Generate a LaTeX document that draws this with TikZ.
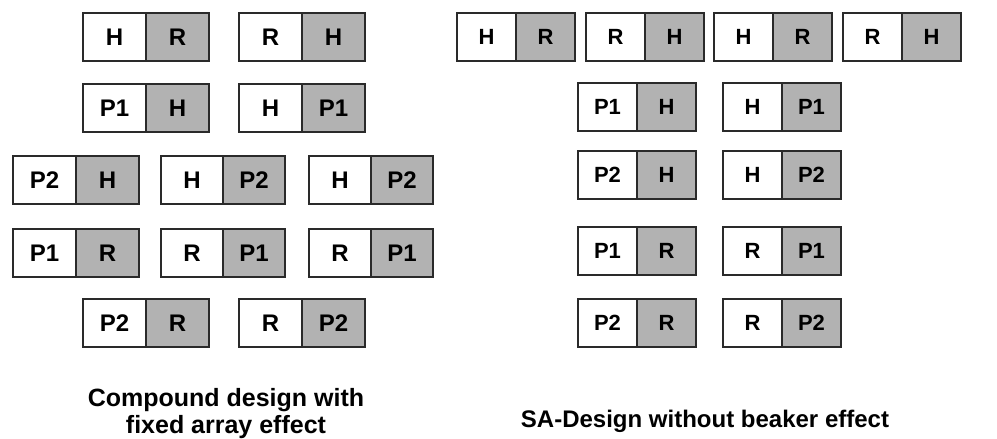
\documentclass[tikz,border=0pt]{standalone}
\usepackage{fontspec}
\setmainfont{Liberation Sans}
\definecolor{cellgray}{HTML}{B2B2B2}
\definecolor{edge}{HTML}{2A2A2A}
\tikzset{
  cell/.style={draw=edge, line width=1.3pt, rectangle, outer sep=0pt, inner sep=0pt,
    minimum height=48pt, text=black},
  cellL/.style={cell, fill=white},
  cellR/.style={cell, fill=cellgray},
  bigtxt/.style={font=\fontsize{24}{24}\selectfont\bfseries},
  smalltxt/.style={font=\fontsize{22}{22}\selectfont\bfseries},
  caption/.style={font=\fontsize{25}{27}\selectfont\bfseries, align=center, inner sep=0pt},
}
% #1 name, #2 x, #3 y, #4 half width, #5 text style, #6 left, #7 right
\newcommand\pairbox[7]{%
  \node[cellL, #5, minimum width=#4pt, anchor=north west] (#1L) at (#2,#3) {#6};
  \node[cellR, #5, minimum width=#4pt, anchor=west] (#1R) at (#1L.east) {#7};
}
\begin{document}
\begin{tikzpicture}[x=1pt,y=-1pt]
\useasboundingbox[fill=white] (0,0) rectangle (997,439);
% ---------- left panel ----------
\pairbox{a1}{83}{13}{63}{bigtxt}{H}{R}
\pairbox{a2}{239}{13}{63}{bigtxt}{R}{H}
\pairbox{b1}{83}{84}{63}{bigtxt}{P1}{H}
\pairbox{b2}{239}{84}{63}{bigtxt}{H}{P1}
\pairbox{c1}{13}{156}{63}{bigtxt}{P2}{H}
\pairbox{c2}{161}{156}{62}{bigtxt}{H}{P2}
\pairbox{c3}{309}{156}{62}{bigtxt}{H}{P2}
\pairbox{d1}{13}{229}{63}{bigtxt}{P1}{R}
\pairbox{d2}{161}{229}{62}{bigtxt}{R}{P1}
\pairbox{d3}{309}{229}{62}{bigtxt}{R}{P1}
\pairbox{e1}{83}{299}{63}{bigtxt}{P2}{R}
\pairbox{e2}{239}{299}{63}{bigtxt}{R}{P2}
\node[caption, anchor=north] (capL) at (226,388) {Compound design with\\fixed array effect};
% ---------- right panel ----------
\pairbox{f1}{457}{13}{59}{smalltxt}{H}{R}
\pairbox{f2}{586}{13}{59}{smalltxt}{R}{H}
\pairbox{f3}{714}{13}{59}{smalltxt}{H}{R}
\pairbox{f4}{843}{13}{59}{smalltxt}{R}{H}
\pairbox{g1}{578}{83}{59}{smalltxt}{P1}{H}
\pairbox{g2}{723}{83}{59}{smalltxt}{H}{P1}
\pairbox{h1}{578}{151}{59}{smalltxt}{P2}{H}
\pairbox{h2}{723}{151}{59}{smalltxt}{H}{P2}
\pairbox{i1}{578}{227}{59}{smalltxt}{P1}{R}
\pairbox{i2}{723}{227}{59}{smalltxt}{R}{P1}
\pairbox{j1}{578}{299}{59}{smalltxt}{P2}{R}
\pairbox{j2}{723}{299}{59}{smalltxt}{R}{P2}
\node[font=\fontsize{24}{24}\selectfont\bfseries, anchor=base] (capR) at (705,427) {SA-Design without beaker effect};
\end{tikzpicture}
\end{document}
